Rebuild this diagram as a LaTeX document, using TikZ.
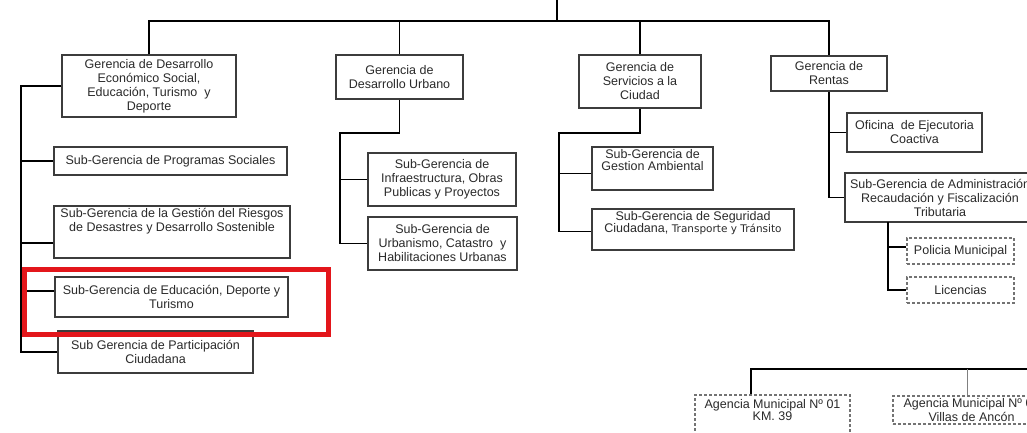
\documentclass[tikz,border=0pt]{standalone}
\usepackage{fontspec}
\setmainfont{Liberation Sans}
\newfontfamily\dejavu{DejaVu Sans}
\definecolor{txtgray}{HTML}{2A2A2A}
\definecolor{boxgray}{HTML}{3C3C3C}
\definecolor{marca}{HTML}{E3161B}

\begin{document}
\begin{tikzpicture}[x=1pt, y=-1pt,
    every node/.style={font=\fontsize{12.5pt}{14pt}\selectfont, text=txtgray},
    caja/.style={draw=boxgray, line width=1.2pt, fill=white, align=center, inner sep=1pt},
    cajap/.style={caja, draw=gray!90!black, dash pattern=on 3pt off 2pt},
    arriba/.style={anchor=north, align=center, inner sep=0pt, yshift=-3pt, font=\fontsize{12.5pt}{12pt}\selectfont},
    linea/.style={line width=1.4pt, black}]

    \useasboundingbox (0,0) rectangle (1027,433);
    \clip (0,0) rectangle (1027,433);

    % ================= Gerencias =================
    \node[caja, minimum width=174pt, minimum height=62pt] (gdes) at (149,86) {Gerencia de Desarrollo\\Económico Social,\\Educación, Turismo \ y\\Deporte};
    \node[caja, minimum width=127pt, minimum height=44pt] (gurb) at (399.5,77) {Gerencia de\\Desarrollo Urbano};
    \node[caja, minimum width=122pt, minimum height=53pt] (gser) at (640,81.5) {Gerencia de\\Servicios a la\\Ciudad};
    \node[caja, minimum width=116pt, minimum height=35pt] (grent) at (829,73.5) {Gerencia de\\Rentas};

    % barra superior
    \coordinate (top) at (557,0);
    \coordinate (bus) at (557,21);
    \draw[linea] (top) -- (bus);
    \draw[linea] (gdes.north) |- (bus) -| (grent.north);
    \draw[linea] (gurb.north) -- (gurb.north |- bus);
    \draw[linea] (gser.north) -- (gser.north |- bus);

    % ================= Desarrollo Económico =================
    \node[caja, minimum width=233pt, minimum height=28pt] (sprog) at (170.5,161) {Sub-Gerencia de Programas Sociales};
    \node[caja, minimum width=236pt, minimum height=52pt,
      label={[arriba, font=\fontsize{12.5pt}{14pt}\selectfont]north:{Sub-Gerencia de la Gestión del Riesgos\\de Desastres y Desarrollo Sostenible}}] (sries) at (172,232) {};
    \node[caja, minimum width=233pt, minimum height=40pt] (sedu) at (171.5,297) {Sub-Gerencia de Educación, Deporte y\\Turismo};
    \node[caja, minimum width=195pt, minimum height=42pt] (spart) at (155.5,352) {Sub Gerencia de Participación\\Ciudadana};

    \coordinate (rA) at (21,86);
    \draw[linea] (gdes.west) -- (rA) |- (spart.west);
    \draw[linea] (sprog.west) -- (sprog.west -| rA);
    \draw[linea] ([yshift=-11pt]sries.west) -- ([yshift=-11pt]sries.west -| rA);
    \draw[linea] ([yshift=6pt]sedu.west) -- ([yshift=6pt]sedu.west -| rA);

    % ================= Desarrollo Urbano =================
    \node[caja, minimum width=148pt, minimum height=53pt] (sinf) at (442,179.5) {Sub-Gerencia de\\Infraestructura, Obras\\Publicas y Proyectos};
    \node[caja, minimum width=149pt, minimum height=53pt] (surb) at (442.5,243.5) {Sub-Gerencia de\\Urbanismo, Catastro \ y\\Habilitaciones Urbanas};

    \coordinate (rB) at (340,133);
    \draw[linea] (gurb.south) |- (rB) |- (surb.west);
    \draw[linea] (sinf.west) -- (sinf.west -| rB);

    % ================= Servicios a la Ciudad =================
    \node[caja, minimum width=121pt, minimum height=43pt,
      label={[arriba]north:{Sub-Gerencia de\\Gestion Ambiental}}] (samb) at (652.5,168.5) {};
    \node[caja, minimum width=202pt, minimum height=41pt,
      label={[arriba]north:{Sub-Gerencia de Seguridad\\Ciudadana, {\dejavu\fontsize{10.5pt}{12pt}\selectfont Transporte y Tránsito}}}] (sseg) at (693,229.5) {};

    \coordinate (rC) at (559,133);
    \draw[linea] (gser.south) |- (rC) |- ([yshift=-2pt]sseg.west);
    \draw[linea] ([yshift=-5pt]samb.west) -- ([yshift=-5pt]samb.west -| rC);

    % ================= Rentas =================
    \node[caja, minimum width=135pt, minimum height=39pt] (ofic) at (914.5,132.5) {Oficina \ de Ejecutoria\\Coactiva};
    \node[caja, minimum width=190pt, minimum height=49pt] (sadm) at (940,197.5) {Sub-Gerencia de Administración\\Recaudación y Fiscalización\\Tributaria};
    \node[cajap, minimum width=107pt, minimum height=26pt] (pol) at (960.5,251) {Policia Municipal};
    \node[cajap, minimum width=107pt, minimum height=26pt] (lic) at (960.5,290) {Licencias};

    \draw[linea] (grent.south) |- (sadm.west);
    \draw[linea] (ofic.west) -- (ofic.west -| grent.south);
    \coordinate (rD) at (888,222);
    \draw[linea, line width=1.1pt] (rD) |- (lic.west);
    \draw[linea, line width=1.1pt] ([yshift=4pt]pol.west) -- ([yshift=4pt]pol.west -| rD);

    % ================= Agencias =================
    \node[cajap, minimum width=155pt, minimum height=52pt,
      label={[arriba, yshift=-2pt]north:{Agencia Municipal Nº 01\\KM. 39}}] (ag1) at (772.5,421) {};
    \node[cajap, minimum width=157pt, minimum height=28pt] (ag2) at (971.5,410) {Agencia Municipal Nº 02\\Villas de Ancón};

    \coordinate (busB) at (751,369);
    \coordinate (busE) at (1100,369);
    \coordinate (busC) at (967,369);
    \draw[linea, line width=2.4pt] (busB |- ag1.north) -- (busB) -- (busE);
    \draw[line width=0.8pt, gray] (busC) -- (busC |- ag2.north);

    % recuadro de resalte
    \draw[marca, line width=5pt] (24.5,269.5) rectangle (328.5,334.5);

\end{tikzpicture}
\end{document}
